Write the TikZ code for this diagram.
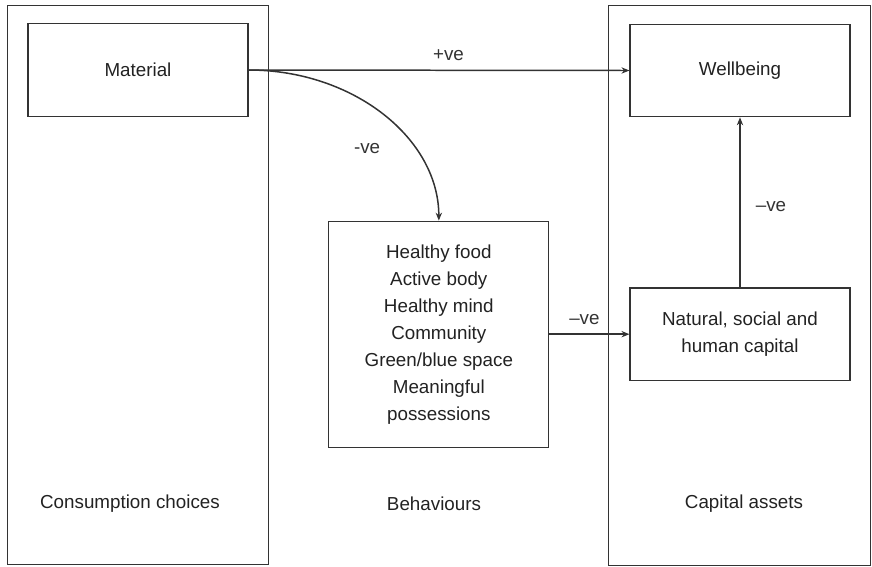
\documentclass[tikz,border=0pt]{standalone}
\usepackage{fontspec}
\setmainfont{Liberation Sans}
\usepackage{xcolor}
\usepackage{tikz}
\usetikzlibrary{arrows.meta, positioning}

\definecolor{linegray}{HTML}{333333}
\definecolor{textgray}{HTML}{222222}

\begin{document}
\begin{tikzpicture}[
    x=0.02cm, y=-0.02cm,
    font=\fontsize{10.7pt}{15.37pt}\selectfont, text=textgray,
    % Estilos
    column/.style={rectangle, draw=linegray, line width=0.7pt, minimum width=5.23cm, minimum height=11.19cm, inner sep=0pt},
    box/.style={rectangle, draw=linegray, line width=0.7pt, minimum width=4.4cm, minimum height=1.85cm, inner sep=0pt, align=center},
    listbox/.style={box, minimum height=4.52cm},
    heading/.style={inner sep=0pt},
    arrow/.style={-{Stealth[length=4.5pt, width=3.6pt]}, line width=0.85pt, linegray},
    label/.style={inner sep=0pt}
]
\useasboundingbox (0,0) rectangle (872,566);

% Columnas
\node[column] (consum) at (138,285) {};
\node[column] (capital) at (739.5,285.5) {};

% Cajas
\node[box] (material) at (138,70) {Material};
\node[box] (wellbeing) at (740,70.5) {Wellbeing};
\node[box, below=3.4cm of wellbeing] (natural) {Natural, social and\\human capital};
\node[listbox, left=1.6cm of natural] (behav) {Healthy food\\Active body\\Healthy mind\\Community\\Green/blue space\\Meaningful\\possessions};

% Titulos de columnas
\node[heading] (consumtitle) at (130,504) {Consumption choices};
\node[heading] (behavtitle) at (434,504) {Behaviours};
\node[heading] (capitaltitle) at (744,504) {Capital assets};

% Flechas
\draw[arrow] (material.east) -- (wellbeing.west) node[pos=0.525, label, yshift=0.3cm] {+ve};
\draw[arrow] (material.east) .. controls +(105,0) and +(0,-82) .. (behav.north)
    node[pos=0.6, label, xshift=-0.7cm, yshift=-0.33cm] {-ve};
\draw[arrow] (behav.east) -- (natural.west) node[midway, label, xshift=-0.1cm, yshift=0.29cm] {--ve};
\draw[arrow] (natural.north) -- (wellbeing.south) node[midway, label, xshift=0.62cm, yshift=-0.08cm] {--ve};

\end{tikzpicture}
\end{document}
